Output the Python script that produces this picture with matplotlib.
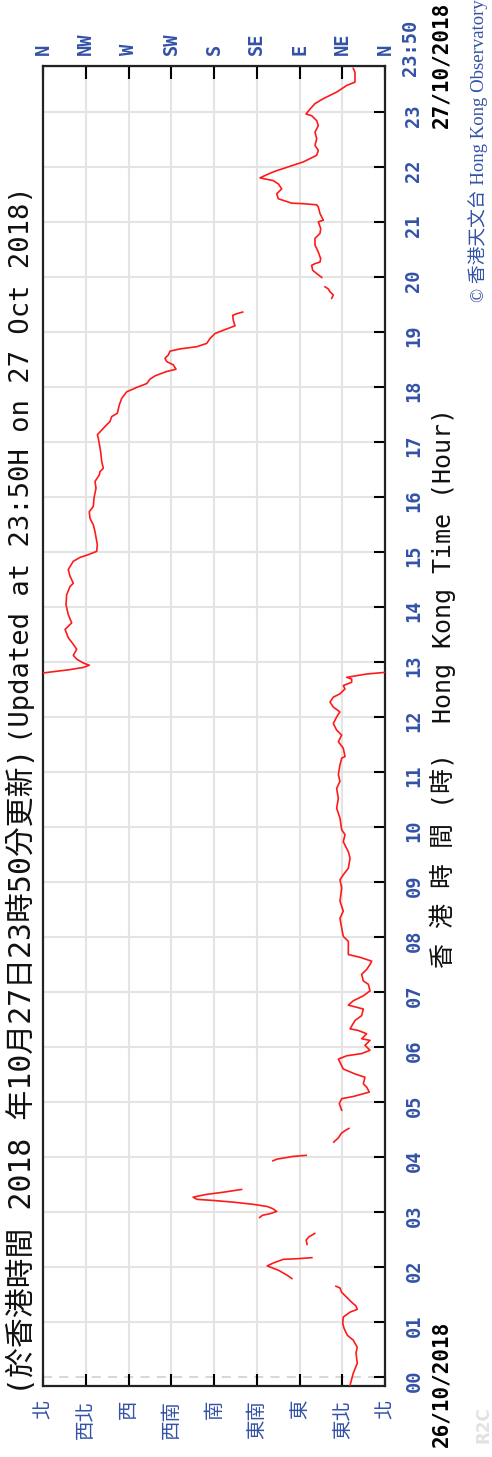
"""
香港天文台 風向時間序列圖 (旋轉版面)
"""
import numpy as np
import matplotlib
matplotlib.use('Agg')
import matplotlib.pyplot as plt

# 風向 (度) 與 香港時間 (小時), 每段之間為缺測
seg_hours = [
    [-0.15, 0.07, 0.25, 0.44, 0.54, 0.67, 0.76, 0.89, 0.98, 1.09, 1.18, 1.23, 1.29, 1.36, 1.45, 1.54, 1.62, 1.65],
    [1.79, 1.85, 1.94, 2.00, 2.02, 2.07, 2.14, 2.15, 2.17],
    [2.41, 2.49, 2.55, 2.61],
    [2.90, 2.94, 2.97, 3.01, 3.06, 3.10, 3.14, 3.18, 3.21, 3.23, 3.27, 3.32, 3.36, 3.41],
    [3.93, 3.96, 4.01, 4.03],
    [4.27, 4.35, 4.43, 4.48, 4.52],
    [4.85, 4.97, 5.06, 5.10, 5.18, 5.27, 5.33, 5.45, 5.51, 5.60,
     5.78, 5.84, 5.88, 5.94, 6.03, 6.12, 6.15, 6.24, 6.30, 6.33,
     6.48, 6.57, 6.69, 6.73, 6.76, 6.84, 6.93, 7.02, 7.14, 7.20,
     7.32, 7.41, 7.50, 7.56, 7.63, 7.68, 7.92, 8.01, 8.16, 8.34,
     8.47, 8.65, 8.89, 9.04, 9.13, 9.25, 9.43, 9.55, 9.73, 9.86,
     9.95, 10.16, 10.34, 10.52, 10.70, 10.83, 10.95, 11.13, 11.25, 11.28,
     11.43, 11.55, 11.67, 11.76, 11.88, 12.00, 12.09, 12.18, 12.27, 12.36,
     12.42, 12.51, 12.57, 12.63, 12.69, 12.72, 12.78, 12.81],
    [12.80, 12.86, 12.90, 12.94, 12.98, 13.05, 13.12, 13.23, 13.32, 13.44,
     13.59, 13.71, 13.86, 14.04, 14.22, 14.37, 14.43, 14.56, 14.68, 14.83,
     14.90, 14.95, 15.01, 15.13, 15.37, 15.49, 15.61, 15.73, 15.83, 15.98,
     16.16, 16.28, 16.40, 16.46, 16.52, 16.64, 16.82, 17.07, 17.13, 17.28,
     17.37, 17.46, 17.52, 17.67, 17.79, 17.91, 17.99, 18.06, 18.14, 18.20,
     18.28, 18.32, 18.40, 18.46, 18.52, 18.58, 18.65, 18.69, 18.73, 18.79,
     18.88, 18.97, 19.03, 19.11, 19.21, 19.30, 19.33, 19.36],
    [19.61, 19.67, 19.73, 19.78, 19.82],
    [19.99, 20.06, 20.12, 20.21, 20.24, 20.27, 20.33, 20.45, 20.58, 20.70,
     20.79, 20.88, 21.00, 21.03, 21.15, 21.27, 21.31, 21.33, 21.34, 21.42,
     21.51, 21.60, 21.69, 21.75, 21.78, 21.80, 21.87, 21.92, 21.97, 22.03,
     22.09, 22.15, 22.21, 22.30, 22.39, 22.51, 22.63, 22.75, 22.84, 22.93,
     22.96, 23.05, 23.15, 23.24, 23.36, 23.48, 23.54, 23.72, 23.79],
]
seg_dirs = [
    [36.8, 33.4, 29.2, 30.5, 29.2, 33.4, 39.7, 43.2, 44.5, 43.9, 36.8, 29.2, 30.5, 35.1, 40.3, 45.6, 47.4, 51.6],
    [98, 103, 112, 121, 124, 118, 107, 93, 77],
    [82, 83, 80, 74],
    [132, 129, 121, 114, 118, 124, 139, 160, 181, 198, 202, 188, 170, 151],
    [118, 114, 97, 83],
    [54, 49, 46, 42, 38],
    [45.6, 48.1, 45.6, 33.4, 16.5, 19.3, 22.8, 21.1, 31.6, 43.9,
     49.1, 40.3, 24.6, 15.8, 21.1, 15.8, 24.6, 19.3, 28.1, 36.8,
     31.6, 24.6, 22.8, 31.6, 38.6, 33.4, 22.8, 15.8, 17.5, 22.8,
     24.6, 19.3, 15.8, 14.0, 26.3, 38.6, 38.6, 43.9, 45.6, 47.4,
     43.9, 47.4, 45.6, 47.4, 43.9, 38.6, 36.8, 38.6, 43.9, 42.1,
     45.6, 47.4, 50.9, 49.1, 50.9, 47.4, 49.1, 47.4, 45.6, 42.1,
     43.9, 49.1, 45.6, 50.9, 54.4, 50.9, 47.4, 54.4, 57.9, 54.4,
     47.4, 42.1, 43.9, 35.1, 35.1, 40.3, 19.3, 0.0],
    [359.7, 331.6, 317.6, 311.3, 317.6, 324.5, 328.1, 324.5, 328.1, 333.4,
     336.8, 329.8, 333.4, 335.8, 335.1, 331.6, 328.1, 331.6, 333.4, 328.1,
     321.0, 312.3, 303.5, 302.8, 305.3, 307.0, 310.5, 311.3, 307.0, 306.3,
     304.2, 305.3, 300.7, 300.0, 296.5, 298.2, 299.3, 301.8, 302.8, 294.7,
     289.5, 287.7, 281.8, 279.7, 277.2, 271.9, 261.4, 250.8, 247.4, 242.1,
     229.8, 220.0, 222.8, 229.8, 231.6, 228.1, 226.3, 215.8, 198.2, 187.7,
     184.2, 178.9, 170.2, 157.9, 159.7, 160.3, 156.1, 149.8],
    [56.1, 54.4, 57.9, 59.7, 63.2],
    [66.6, 71.9, 76.1, 77.2, 73.7, 68.4, 67.7, 70.2, 73.7, 73.7,
     68.4, 67.7, 70.2, 64.9, 68.4, 70.2, 71.9, 86.0, 98.2, 112.3,
     114.0, 108.7, 112.3, 117.6, 126.3, 131.6, 122.8, 115.8, 107.0, 96.5,
     86.0, 78.9, 71.9, 70.2, 73.7, 71.9, 73.7, 70.2, 71.9, 77.2,
     83.2, 78.9, 73.7, 64.9, 50.8, 40.3, 31.6, 31.6, 33.4],
]

dir_ticks = [360, 315, 270, 225, 180, 135, 90, 45, 0]
dir_labels_en = ['N', 'NW', 'W', 'SW', 'S', 'SE', 'E', 'NE', 'N']
dir_labels_zh = ['北', '西北', '西', '西南', '南', '東南', '東', '東北', '北']
hour_ticks = list(range(24))
hour_labels = ['%02d' % h for h in hour_ticks]
end_hour = 23 + 50 / 60

BLUE = '#3352a6'
MONO = ['DejaVu Sans Mono', 'Noto Sans CJK TC']

W, H = 492, 1457
fig = plt.figure(figsize=(W / 100, H / 100), dpi=100)
fig.patch.set_facecolor('white')

ax = fig.add_axes([43 / W, 71 / H, 342 / W, 1320 / H])
ax.set_xlim(360, 0)
ax.set_ylim(-0.163, end_hour)

# 網格
for d in dir_ticks[1:-1]:
    ax.axvline(d, color='#e4e4e4', lw=1.5, zorder=0)
for h in hour_ticks[1:]:
    ax.axhline(h, color='#e4e4e4', lw=1.5, zorder=0)
ax.axhline(0, color='#d4d4d4', lw=1.3, ls=(0, (5, 4)), zorder=0)

for seg_h, seg_d in zip(seg_hours, seg_dirs):
    ax.plot(seg_d, seg_h, color='#ff1a1a', lw=1.2, zorder=3)

for s in ax.spines.values():
    s.set_linewidth(1.6)
    s.set_color('#222222')

# 下方中文方向
ax.set_xticks(dir_ticks, labels=dir_labels_zh)
ax.tick_params(axis='x', direction='in', length=9, width=1.5, labelrotation=90,
               labelsize=14, labelcolor=BLUE, pad=10, top=False)
for lbl in ax.get_xticklabels():
    lbl.set_fontfamily(['Noto Sans CJK TC'])

# 上方英文方向
sec = ax.secondary_xaxis('top')
sec.set_xticks(dir_ticks, labels=dir_labels_en)
sec.tick_params(axis='x', direction='in', length=9, width=1.5, labelrotation=90,
                labelsize=13.5, labelcolor=BLUE, pad=8)
for lbl in sec.get_xticklabels():
    lbl.set_fontfamily(['DejaVu Sans Mono'])
    lbl.set_fontweight('bold')

# 右方時間
ax.yaxis.tick_right()
ax.set_yticks(hour_ticks, labels=hour_labels)
ax.tick_params(axis='y', direction='in', length=8, width=1.5, labelrotation=90,
               labelsize=13.5, labelcolor=BLUE, pad=14, left=False)
for lbl in ax.get_yticklabels():
    lbl.set_fontfamily(['DejaVu Sans Mono'])
    lbl.set_fontweight('bold')
ax.text(1 + 16 / 342, end_hour + 0.33, '23:50', transform=ax.get_yaxis_transform(),
        rotation=90, ha='left', va='center', fontsize=13.5, color=BLUE,
        family='DejaVu Sans Mono', fontweight='bold', clip_on=False)

# 標題 (中文部分 + 英文部分)
fig.text(22 / W, (H - 1395) / H, '(於香港時間 2018 年10月27日23時50分更新)',
         rotation=90, ha='center', va='bottom', fontsize=21.5, family=MONO, color='#111111')
fig.text(22 / W, (H - 186) / H, '(Updated at 23:50H on 27 Oct 2018)',
         rotation=90, ha='center', va='top', fontsize=19.5, family=MONO, color='#111111')

fig.text(443 / W, (H - 968) / H, '香 港 時 間 (時)  Hong Kong Time (Hour)',
         rotation=90, ha='center', va='bottom', fontsize=18, family=MONO, color='#111111')
fig.text(441 / W, (H - 1447) / H, '26/10/2018', rotation=90, ha='center', va='bottom',
         fontsize=15, family='DejaVu Sans Mono', fontweight='bold', color='black')
fig.text(441 / W, (H - 2) / H, '27/10/2018', rotation=90, ha='center', va='top',
         fontsize=15, family='DejaVu Sans Mono', fontweight='bold', color='black')
fig.text(478 / W, (H - 302) / H, '© 香港天文台 Hong Kong Observatory', rotation=90,
         ha='center', va='bottom', fontsize=13.5, family=['Liberation Serif', 'Noto Sans CJK TC'],
         color=BLUE)
fig.text(484 / W, (H - 1443) / H, 'R2C', rotation=90, ha='center', va='bottom',
         fontsize=12, fontweight='bold', color='#e2e2e2')

fig.savefig('out.png', dpi=100)
